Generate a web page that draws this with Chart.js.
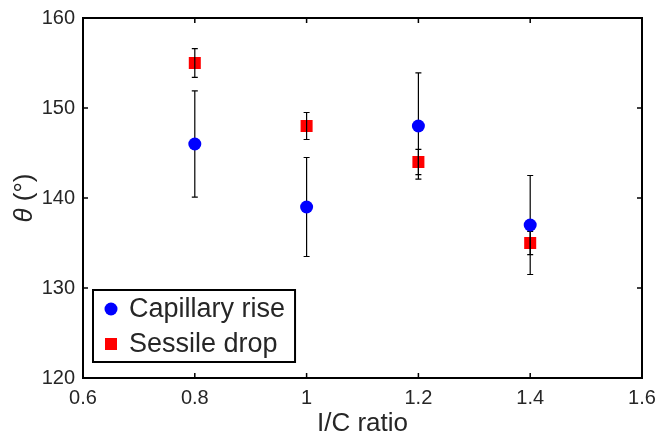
<!DOCTYPE html>
<html>
<head>
<meta charset="utf-8">
<script src="https://cdn.jsdelivr.net/npm/chart.js@4/dist/chart.umd.min.js"></script>
<style>
  body { margin: 0; background: #fff; }
  #wrap { width: 658px; height: 437px; }
</style>
</head>
<body>
<div id="wrap"><canvas id="chart" width="658" height="437"></canvas></div>
<script>
// I/C ratio values on x
const ratios = [0.8, 1.0, 1.2, 1.4];

// contact angle, capillary rise
const capillary = [146, 139, 148, 137];
const capillaryErr = [5.9, 5.5, 5.9, 5.5];

// contact angle, sessile drop
const sessile = [155, 148, 144, 135];
const sessileErr = [1.6, 1.5, 1.4, 1.3];

const yTitle = ['θ', ' (°)'];

const errs = [capillaryErr, sessileErr];
const textColor = '#262626';
const fontFamily = '"Liberation Sans", Arial, Helvetica, sans-serif';

function drawBars(chart, idx) {
    const ctx = chart.ctx;
    const xs = chart.scales.x, ys = chart.scales.y;
    const ds = chart.data.datasets[idx];
    ctx.save();
    ctx.strokeStyle = '#000';
    ctx.lineWidth = 1.2;
    ds.data.forEach((p, i) => {
        const e = errs[idx][i];
        const px = xs.getPixelForValue(p.x);
        const top = ys.getPixelForValue(p.y + e);
        const bot = ys.getPixelForValue(p.y - e);
        ctx.beginPath();
        ctx.moveTo(px, top); ctx.lineTo(px, bot);
        ctx.moveTo(px - 3, top); ctx.lineTo(px + 3, top);
        ctx.moveTo(px - 3, bot); ctx.lineTo(px + 3, bot);
        ctx.stroke();
    });
    ctx.restore();
}

const errorBars = {
    id: 'errorBars',
    beforeDatasetDraw(chart, args) { if (args.index === 0) drawBars(chart, 0); },
    afterDatasetDraw(chart, args) { if (args.index === 1) drawBars(chart, 1); }
};

// box frame with inward ticks, like the matlab axes
const frame = {
    id: 'frame',
    afterDatasetsDraw(chart) {
        const ctx = chart.ctx;
        const a = chart.chartArea;
        const xs = chart.scales.x, ys = chart.scales.y;
        ctx.save();
        ctx.strokeStyle = '#000';
        ctx.lineWidth = 2;
        ctx.strokeRect(a.left, a.top, a.right - a.left, a.bottom - a.top);
        ctx.lineWidth = 1.5;
        ctx.beginPath();
        xs.ticks.forEach(t => {
            const px = xs.getPixelForValue(t.value);
            ctx.moveTo(px, a.bottom); ctx.lineTo(px, a.bottom - 5);
            ctx.moveTo(px, a.top); ctx.lineTo(px, a.top + 5);
        });
        ys.ticks.forEach(t => {
            const py = ys.getPixelForValue(t.value);
            ctx.moveTo(a.left, py); ctx.lineTo(a.left + 5, py);
            ctx.moveTo(a.right, py); ctx.lineTo(a.right - 5, py);
        });
        ctx.stroke();

        // y title: italic theta, upright unit
        const cy = (a.top + a.bottom) / 2;
        ctx.translate(25, cy);
        ctx.rotate(-Math.PI / 2);
        ctx.fillStyle = textColor;
        ctx.textBaseline = 'middle';
        ctx.font = 'italic 26px ' + fontFamily;
        const w0 = ctx.measureText(yTitle[0]).width;
        ctx.font = '26px ' + fontFamily;
        const w1 = ctx.measureText(yTitle[1]).width;
        let x0 = -(w0 + w1) / 2;
        ctx.font = 'italic 26px ' + fontFamily;
        ctx.fillText(yTitle[0], x0, 0);
        ctx.font = '26px ' + fontFamily;
        ctx.fillText(yTitle[1], x0 + w0, 0);
        ctx.restore();
    }
};

// boxed legend in the lower left corner
const boxLegend = {
    id: 'boxLegend',
    afterDraw(chart) {
        const ctx = chart.ctx;
        const a = chart.chartArea;
        ctx.save();
        ctx.font = '27px ' + fontFamily;
        const w = Math.max(...chart.data.datasets.map(d => ctx.measureText(d.label).width));
        const left = a.left + 10, top = a.bottom - 88;
        const boxW = 36 + w + 10, boxH = 72;
        ctx.fillStyle = '#fff';
        ctx.fillRect(left, top, boxW, boxH);
        ctx.strokeStyle = '#000';
        ctx.lineWidth = 2;
        ctx.strokeRect(left, top, boxW, boxH);
        chart.data.datasets.forEach((d, i) => {
            const cy = top + 19 + i * 35;
            const cx = left + 18;
            ctx.fillStyle = d.backgroundColor;
            ctx.beginPath();
            if (d.pointStyle === 'circle') ctx.arc(cx, cy, 6.5, 0, Math.PI * 2);
            else ctx.rect(cx - 6, cy - 6, 12, 12);
            ctx.fill();
            ctx.fillStyle = textColor;
            ctx.textBaseline = 'middle';
            ctx.fillText(d.label, left + 36, cy + 1);
        });
        ctx.restore();
    }
};

new Chart(document.getElementById('chart').getContext('2d'), {
    type: 'scatter',
    data: {
        datasets: [
            {
                label: 'Capillary rise',
                data: ratios.map((r, i) => ({ x: r, y: capillary[i] })),
                backgroundColor: '#0000ff',
                borderColor: '#0000ff',
                pointStyle: 'circle',
                pointRadius: 6.5,
                pointBorderWidth: 0
            },
            {
                label: 'Sessile drop',
                data: ratios.map((r, i) => ({ x: r, y: sessile[i] })),
                backgroundColor: '#ff0000',
                borderColor: '#ff0000',
                pointStyle: 'rect',
                pointRadius: 8.5,
                pointBorderWidth: 0
            }
        ]
    },
    options: {
        responsive: false,
        animation: false,
        layout: { padding: { top: 18, right: 16, left: 0, bottom: 0 } },
        plugins: {
            legend: { display: false },
            tooltip: { enabled: false }
        },
        scales: {
            x: {
                type: 'linear',
                min: 0.6, max: 1.6,
                afterFit: s => { s.height = 59; s.paddingLeft = 0; s.paddingRight = 0; },
                grid: { display: false, drawTicks: false },
                border: { display: false },
                ticks: {
                    stepSize: 0.2,
                    padding: 8,
                    color: textColor,
                    font: { family: fontFamily, size: 20 },
                    callback: v => String(+v.toFixed(1))
                },
                title: {
                    display: true,
                    text: 'I/C ratio',
                    color: textColor,
                    padding: 0,
                    font: { family: fontFamily, size: 26, lineHeight: 1 }
                }
            },
            y: {
                min: 120, max: 160,
                afterFit: s => { s.width = 83; s.paddingTop = 0; s.paddingBottom = 0; },
                grid: { display: false, drawTicks: false },
                border: { display: false },
                ticks: {
                    stepSize: 10,
                    padding: 8,
                    color: textColor,
                    font: { family: fontFamily, size: 20 }
                },
                title: { display: false }
            }
        }
    },
    plugins: [errorBars, frame, boxLegend]
});
</script>
</body>
</html>
